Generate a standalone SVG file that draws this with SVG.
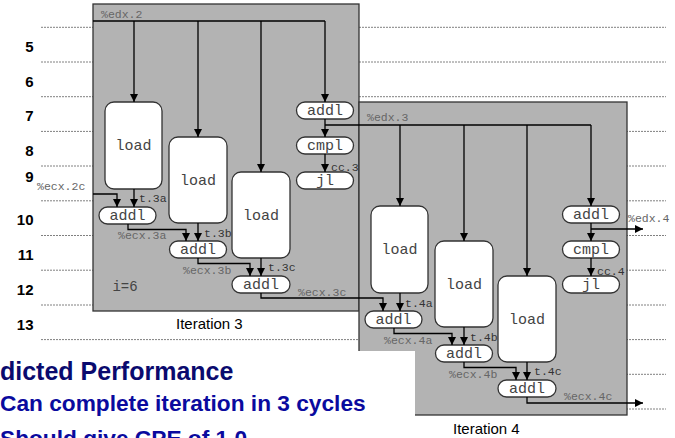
<svg xmlns="http://www.w3.org/2000/svg" width="675" height="438" viewBox="0 0 675 438">
<defs>
<marker id="ah" markerUnits="userSpaceOnUse" markerWidth="9" markerHeight="8" refX="8" refY="4" orient="auto">
<path d="M0,0 L8,4 L0,8 z" fill="#000"/>
</marker>
<style>
.dash{stroke:#808080;stroke-width:1;stroke-dasharray:2 1;fill:none}
.box{fill:#b3b3b3;stroke:#333;stroke-width:1.3}
.node{fill:#fff;stroke:#333;stroke-width:1.3}
.op{font-family:"Liberation Mono","Courier New",monospace;font-size:15px;fill:#444;text-anchor:middle}
.lbl{font-family:"Liberation Mono","Courier New",monospace;font-size:11.5px;fill:#666}
.tl{font-family:"Liberation Mono","Courier New",monospace;font-size:11.5px;fill:#333}
.conn path{fill:none;stroke:#000;stroke-width:1.3}
.arr{marker-end:url(#ah)}
.row{font-family:"Liberation Sans",Arial,sans-serif;font-weight:bold;font-size:15px;text-anchor:end;fill:#000}
.cap{font-family:"Liberation Sans",Arial,sans-serif;font-size:15px;fill:#000}
.t1{font-family:"Liberation Sans",Arial,sans-serif;font-weight:bold;font-size:25px;fill:#0a0a6e}
.t2{font-family:"Liberation Sans",Arial,sans-serif;font-weight:bold;font-size:22.7px;fill:#0a0a9e}
</style>
</defs>
<rect width="675" height="438" fill="#fff"/>
<g id="grid">
<path class="dash" d="M41,27.3H666M41,62H666M41,96.7H666M41,131.4H666M41,166H666M41,200.8H666M41,235.5H666M41,270.2H666M41,305H666M41,339.6H666M41,374.3H666M41,409H666"/>
</g>
<g id="rows">
<text class="row" x="33.5" y="52">5</text>
<text class="row" x="33.5" y="87">6</text>
<text class="row" x="33.5" y="121">7</text>
<text class="row" x="33.5" y="156">8</text>
<text class="row" x="33.5" y="182">9</text>
<text class="row" x="33.5" y="225">10</text>
<text class="row" x="33.5" y="260">11</text>
<text class="row" x="33.5" y="295">12</text>
<text class="row" x="33.5" y="330">13</text>
</g>
<g id="iteration3">
<rect class="box" x="93" y="4" width="266" height="307"/>
<text class="op" x="125" y="291" style="font-size:14px">i=6</text>
<text class="cap" x="176" y="329">Iteration 3</text>
</g>
<g id="iteration4">
<rect class="box" x="359" y="102" width="268" height="313"/>
<text class="cap" x="453" y="434">Iteration 4</text>
</g>
<g id="i3_load1"><rect class="node" x="105" y="102" width="57" height="87" rx="9"/><text class="op" x="133.5" y="150">load</text></g>
<g id="i3_load2"><rect class="node" x="169" y="137" width="58" height="86" rx="9"/><text class="op" x="198" y="185">load</text></g>
<g id="i3_load3"><rect class="node" x="232" y="172" width="58" height="86" rx="9"/><text class="op" x="261" y="220">load</text></g>
<g id="i3_addl_a"><rect class="node" x="99" y="207" width="57" height="17" rx="8.5"/><text class="op" x="127.5" y="220">addl</text></g>
<g id="i3_addl_b"><rect class="node" x="169.5" y="241" width="57" height="17" rx="8.5"/><text class="op" x="198" y="254">addl</text></g>
<g id="i3_addl_c"><rect class="node" x="232" y="276" width="58" height="17" rx="8.5"/><text class="op" x="261" y="289">addl</text></g>
<g id="i3_addl"><rect class="node" x="296.5" y="102" width="57" height="17" rx="8.5"/><text class="op" x="325" y="115">addl</text></g>
<g id="i3_cmpl"><rect class="node" x="296.5" y="137" width="57" height="17" rx="8.5"/><text class="op" x="325" y="150">cmpl</text></g>
<g id="i3_jl"><rect class="node" x="296.5" y="172" width="57" height="17" rx="8.5"/><text class="op" x="325" y="185">jl</text></g>
<g id="i4_load1"><rect class="node" x="371" y="206" width="57" height="87" rx="9"/><text class="op" x="399.5" y="254">load</text></g>
<g id="i4_load2"><rect class="node" x="435" y="241" width="58" height="86" rx="9"/><text class="op" x="464" y="289">load</text></g>
<g id="i4_load3"><rect class="node" x="498" y="276" width="58" height="86" rx="9"/><text class="op" x="527" y="324">load</text></g>
<g id="i4_addl_a"><rect class="node" x="365" y="311" width="57" height="17" rx="8.5"/><text class="op" x="393.5" y="324">addl</text></g>
<g id="i4_addl_b"><rect class="node" x="435.5" y="345" width="57" height="17" rx="8.5"/><text class="op" x="464" y="358">addl</text></g>
<g id="i4_addl_c"><rect class="node" x="498" y="380" width="58" height="17" rx="8.5"/><text class="op" x="527" y="393">addl</text></g>
<g id="i4_addl"><rect class="node" x="562.5" y="206" width="57" height="17" rx="8.5"/><text class="op" x="591" y="219">addl</text></g>
<g id="i4_cmpl"><rect class="node" x="562.5" y="241" width="57" height="17" rx="8.5"/><text class="op" x="591" y="254">cmpl</text></g>
<g id="i4_jl"><rect class="node" x="562.5" y="276" width="57" height="17" rx="8.5"/><text class="op" x="591" y="289">jl</text></g>
<g id="connectors" class="conn">
<path d="M93,21H325"/>
<path class="arr" d="M134,21V102"/>
<path class="arr" d="M198,21V137"/>
<path class="arr" d="M261,21V172"/>
<path class="arr" d="M325,21V102"/>
<path class="arr" d="M325,119V137"/>
<path class="arr" d="M325,154V172"/>
<path d="M325,125H591"/>
<path class="arr" d="M134,189V207"/>
<path class="arr" d="M93,194H117V207"/>
<path class="arr" d="M128,224V229.5H186V241"/>
<path class="arr" d="M198,223V241"/>
<path class="arr" d="M198,258V263.5H250V276"/>
<path class="arr" d="M261,258V276"/>
<path class="arr" d="M261,293V298H383V311"/>
<path class="arr" d="M400,125V206"/>
<path class="arr" d="M464,125V241"/>
<path class="arr" d="M527,125V276"/>
<path class="arr" d="M591,125V206"/>
<path class="arr" d="M591,223V241"/>
<path class="arr" d="M591,258V276"/>
<path class="arr" d="M591,229H643"/>
<path class="arr" d="M400,293V311"/>
<path class="arr" d="M394,328V333.5H452V345"/>
<path class="arr" d="M464,327V345"/>
<path class="arr" d="M464,362V367.5H516V380"/>
<path class="arr" d="M527,362V380"/>
<path class="arr" d="M527,397V403H643"/>
</g>
<g id="labels">
<text class="lbl" x="101" y="18">%edx.2</text>
<text class="lbl" x="37" y="190">%ecx.2c</text>
<text class="tl" x="139" y="202">t.3a</text>
<text class="lbl" x="118" y="239">%ecx.3a</text>
<text class="tl" x="204" y="237">t.3b</text>
<text class="lbl" x="183" y="274">%ecx.3b</text>
<text class="tl" x="268" y="271">t.3c</text>
<text class="lbl" x="298" y="296">%ecx.3c</text>
<text class="tl" x="331" y="170.5">cc.3</text>
<text class="lbl" x="367" y="121">%edx.3</text>
<text class="tl" x="405" y="307">t.4a</text>
<text class="lbl" x="384" y="344">%ecx.4a</text>
<text class="tl" x="470" y="341">t.4b</text>
<text class="lbl" x="449" y="378">%ecx.4b</text>
<text class="tl" x="534" y="375">t.4c</text>
<text class="lbl" x="564" y="400">%ecx.4c</text>
<text class="tl" x="597" y="275">cc.4</text>
<text class="lbl" x="628" y="222">%edx.4</text>
</g>
<g id="notes">
<rect x="0" y="351" width="415" height="87" fill="#fff"/>
<text class="t1" x="0" y="380">dicted Performance</text>
<text class="t2" x="0" y="411">Can complete iteration in 3 cycles</text>
<text class="t2" x="0" y="446">Should give CPE of 1.0</text>
</g>
</svg>
